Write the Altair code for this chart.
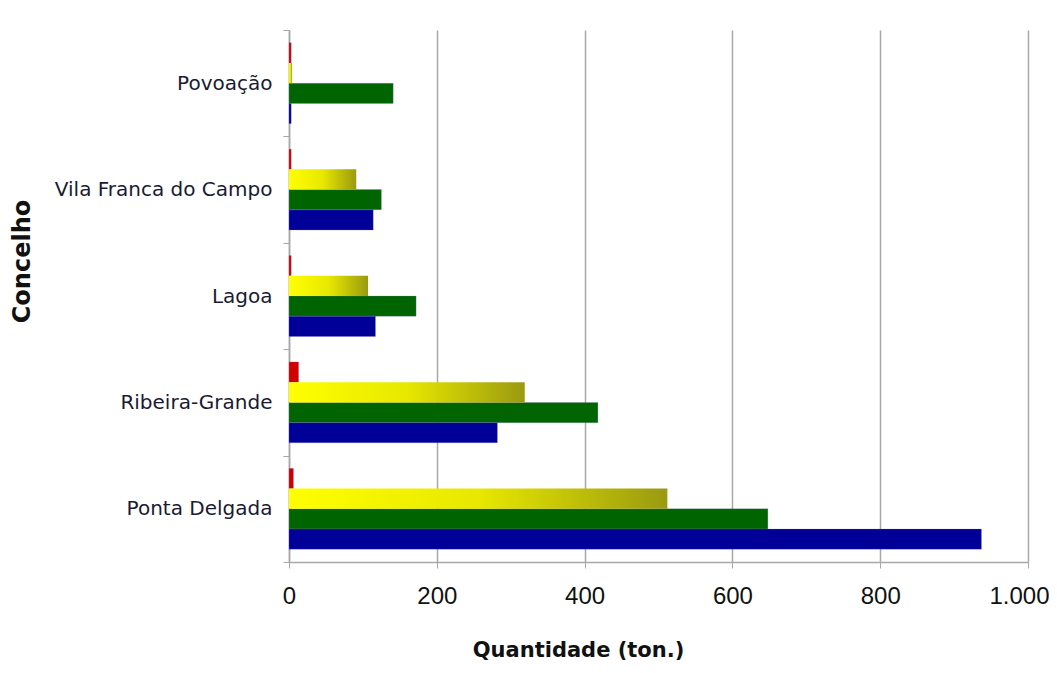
import altair as alt
import pandas as pd

concelhos = ["Povoação", "Vila Franca do Campo", "Lagoa", "Ribeira-Grande", "Ponta Delgada"]
series = ["Série 1", "Série 2", "Série 3", "Série 4"]  # red, yellow, green, blue (top to bottom in each group)
colors = ["#D00000", "#FFFF00", "#006400", "#000099"]

vals_red = [3, 3, 3, 13, 6]
vals_yellow = [4, 91, 107, 319, 512]
vals_green = [141, 125, 172, 418, 648]
vals_blue = [3, 114, 117, 282, 937]

rows = []
for s, vals in zip(series, [vals_red, vals_yellow, vals_green, vals_blue]):
    for c, v in zip(concelhos, vals):
        rows.append({"Concelho": c, "Serie": s, "Quantidade": v})
df = pd.DataFrame(rows)

FONT = "DejaVu Sans"
NUMFONT = "Liberation Sans"

x_enc = alt.X(
    "Quantidade:Q",
    scale=alt.Scale(domain=[0, 1000], nice=False),
    axis=alt.Axis(
        title="Quantidade (ton.)",
        values=[0, 200, 400, 600, 800, 1000],
        labelExpr="replace(datum.label, ',', '.')",
        labelFlush=False,
        labelOffset={"expr": "datum.value == 1000 ? -9 : 0"},
        grid=True,
        gridColor="#A8A8A8",
        gridWidth=1.5,
        domainColor="#A8A8A8",
        domainWidth=1.5,
        tickColor="#A8A8A8",
        tickSize=6,
        labelFont=NUMFONT,
        labelFontSize=24,
        labelColor="#111111",
        labelPadding=16,
        titleFont=FONT,
        titleFontSize=21,
        titleFontWeight="bold",
        titleColor="#111111",
        titleX=289,
        titleAlign="center",
        titlePadding=31,
    ),
)
y_enc = alt.Y(
    "Concelho:N",
    sort=concelhos,
    scale=alt.Scale(paddingInner=0, paddingOuter=0),
    axis=alt.Axis(
        title="Concelho",
        tickBand="extent",
        domainColor="#A8A8A8",
        domainWidth=1.5,
        tickColor="#A8A8A8",
        tickSize=6,
        labelFont=FONT,
        labelFontSize=20,
        labelColor="#1a1a33",
        labelPadding=11,
        labelLimit=0,
        titleFont=FONT,
        titleFontSize=24,
        titleFontWeight="bold",
        titleColor="#111111",
        titleX=-267,
        titleY=231,
        titleAlign="center",
        titleBaseline="middle",
    ),
)
yoff = alt.YOffset(
    "Serie:N",
    sort=series,
    scale=alt.Scale(domain=series, paddingInner=0, paddingOuter=0.63),
)

base = alt.Chart(df).encode(x=x_enc, y=y_enc, yOffset=yoff)

solid = base.transform_filter(alt.datum.Serie != "Série 2").mark_bar(
    stroke="#8080c0", strokeWidth=0.5, strokeOpacity=0.5
).encode(
    color=alt.Color("Serie:N", scale=alt.Scale(domain=series, range=colors), legend=None)
)

yellow = base.transform_filter(alt.datum.Serie == "Série 2").mark_bar(
    color=alt.Gradient(
        gradient="linear",
        stops=[
            alt.GradientStop(offset=0, color="#FFFF00"),
            alt.GradientStop(offset=0.5, color="#E8E800"),
            alt.GradientStop(offset=1, color="#9A9A10"),
        ],
        x1=0, x2=1, y1=0, y2=0,
    )
)

chart = alt.layer(solid, yellow).properties(
    width=739,
    height=532,
    autosize=alt.AutoSizeParams(type="none"),
    padding={"left": 281, "top": 22, "right": 21, "bottom": 103},
).configure_view(stroke=None)

chart.save("out.html", embed_options={"renderer": "svg", "actions": False})
